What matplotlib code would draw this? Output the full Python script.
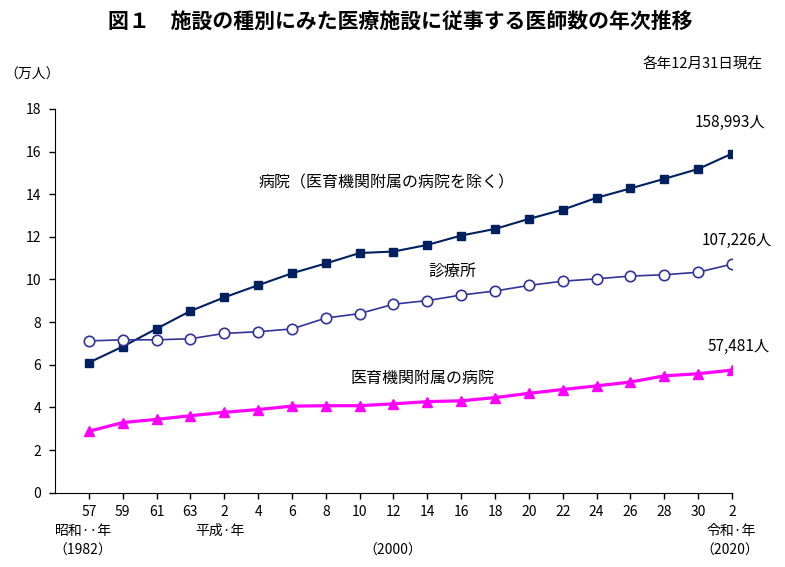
import matplotlib
matplotlib.use("Agg")
import matplotlib.pyplot as plt

plt.rcParams['font.family'] = ['Noto Sans CJK JP', 'DejaVu Sans']

# x tick labels (昭和57 ... 平成30, 令和2)
year_labels = ["57", "59", "61", "63", "2", "4", "6", "8", "10", "12", "14",
               "16", "18", "20", "22", "24", "26", "28", "30", "2"]

# 万人
hospital = [6.10, 6.85, 7.69, 8.52, 9.16, 9.73, 10.29, 10.75, 11.24, 11.31,
            11.62, 12.06, 12.37, 12.84, 13.27, 13.83, 14.27, 14.72, 15.18, 15.90]
clinic = [7.12, 7.17, 7.17, 7.22, 7.47, 7.55, 7.68, 8.19, 8.40, 8.84,
          9.01, 9.27, 9.46, 9.72, 9.92, 10.03, 10.16, 10.22, 10.34, 10.72]
univ = [2.88, 3.29, 3.44, 3.61, 3.77, 3.90, 4.06, 4.08, 4.08, 4.17,
        4.27, 4.31, 4.46, 4.66, 4.84, 5.01, 5.19, 5.48, 5.58, 5.75]

x = list(range(len(year_labels)))

fig = plt.figure(figsize=(7.85, 5.67), dpi=100)
ax = fig.add_axes([0.0700, 0.131, 0.8625, 0.677])

ax.plot(x, hospital, color='#002060', lw=1.5, marker='s', ms=5.5,
        markerfacecolor='#002060', markeredgecolor='#002060')
ax.plot(x, clinic, color='#333399', lw=1.2, marker='o', ms=7.5,
        markerfacecolor='white', markeredgecolor='#333399', markeredgewidth=1.2)
ax.plot(x, univ, color='#FF00FF', lw=2.3, marker='^', ms=7,
        markerfacecolor='#FF00FF', markeredgecolor='#FF00FF')

ax.set_xlim(-1, 19)
ax.set_ylim(0, 18)
ax.set_yticks(range(0, 19, 2))
ax.set_xticks(x)
ax.set_xticklabels(year_labels)
ax.spines['top'].set_visible(False)
ax.spines['right'].set_visible(False)
ax.tick_params(axis='both', labelsize=10, length=4, width=1, pad=6)
ax.tick_params(axis='x', pad=5)

# series labels
ax.text(8.8, 14.53, "病院（医育機関附属の病院を除く）", fontsize=11.5, ha='center', va='center')
ax.text(10.74, 10.36, "診療所", fontsize=11.5, ha='center', va='center')
ax.text(9.85, 5.38, "医育機関附属の病院", fontsize=11.5, ha='center', va='center')
ax.text(18.95, 17.35, "158,993人", fontsize=11, ha='center', va='center', clip_on=False)
ax.text(19.15, 11.81, "107,226人", fontsize=11, ha='center', va='center', clip_on=False)
ax.text(19.2, 6.84, "57,481人", fontsize=11, ha='center', va='center', clip_on=False)

fig.text(0.51, 0.962, "図１　施設の種別にみた医療施設に従事する医師数の年次推移",
         fontsize=15, fontweight='bold', ha='center', va='center')
fig.text(0.972, 0.887, "各年12月31日現在", fontsize=10.5, ha='right', va='center')
fig.text(0.006, 0.868, "（万人）", fontsize=10, ha='left', va='center')

fig.text(0.107, 0.064, "昭和··年", fontsize=10, ha='center', va='center')
fig.text(0.280, 0.064, "平成·年", fontsize=10, ha='center', va='center')
fig.text(0.931, 0.064, "令和·年", fontsize=10, ha='center', va='center')
fig.text(0.105, 0.028, "（1982）", fontsize=10, ha='center', va='center')
fig.text(0.500, 0.028, "（2000）", fontsize=10, ha='center', va='center')
fig.text(0.930, 0.028, "（2020）", fontsize=10, ha='center', va='center')

fig.savefig("out.png", dpi=100)
